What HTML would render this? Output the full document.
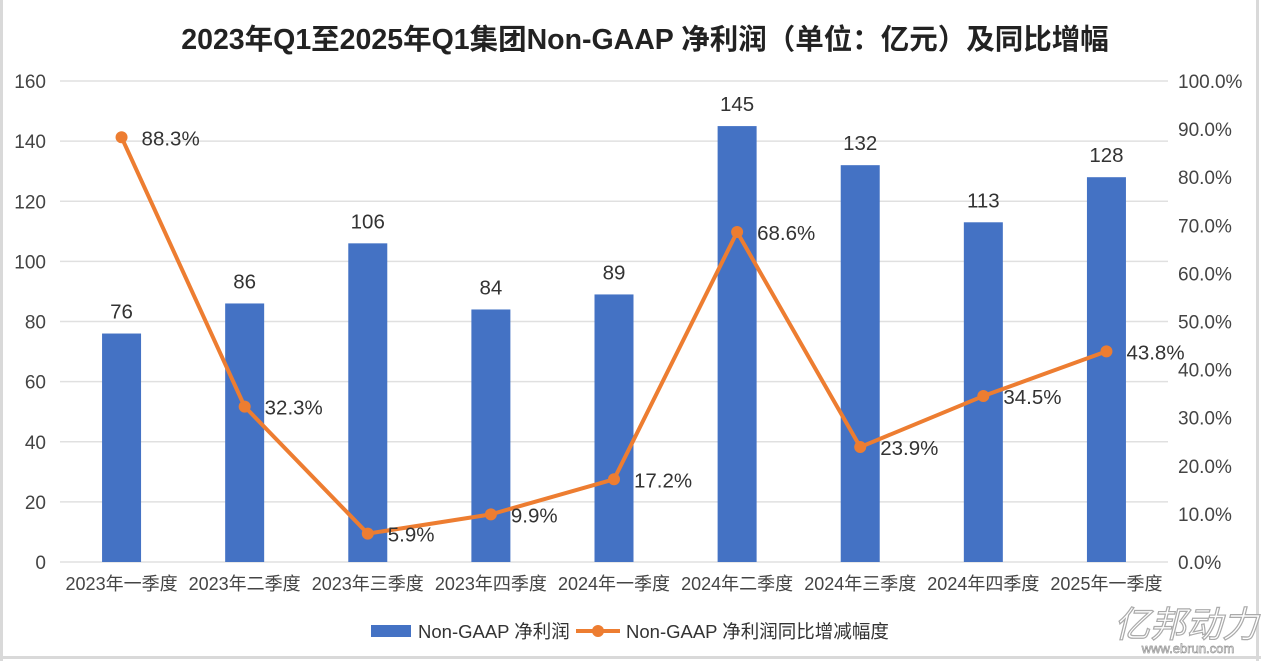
<!DOCTYPE html>
<html><head><meta charset="utf-8"><style>
html,body{margin:0;padding:0;background:#fff;}
svg{display:block;font-family:"Liberation Sans","Noto Sans CJK SC",sans-serif;}
</style></head><body>
<svg id="chart" width="1261" height="661" viewBox="0 0 1261 661">
<rect x="0" y="0" width="1261" height="661" fill="#fff"/>
<rect x="0" y="0" width="3" height="661" fill="#d9d9d9"/>
<rect x="1256" y="0" width="3" height="661" fill="#d9d9d9"/>
<rect x="0" y="656" width="1261" height="3" fill="#d9d9d9"/>
<text x="645" y="49" text-anchor="middle" font-size="28.5" font-weight="bold" fill="#222">2023年Q1至2025年Q1集团Non-GAAP 净利润（单位：亿元）及同比增幅</text>
<g id="grid"></g><g id="bars"></g><g id="line"></g><g id="labels"></g>
<g>
<rect x="371" y="625" width="40" height="12" fill="#4472c4"/>
<text x="418" y="638" font-size="18.5" fill="#333">Non-GAAP 净利润</text>
<line x1="576" y1="631" x2="620" y2="631" stroke="#ed7d31" stroke-width="4"/>
<circle cx="598" cy="631" r="6" fill="#ed7d31"/>
<text x="626" y="638" font-size="18.5" fill="#333">Non-GAAP 净利润同比增减幅度</text>
</g>
<g>
<text x="1186" y="637" font-size="36" font-style="italic" text-anchor="middle" fill="#fff" stroke="#aaa" stroke-width="1.2">亿邦动力</text>
<text x="1188" y="653" font-size="13" text-anchor="middle" fill="#fff" stroke="#999" stroke-width="0.7">www.ebrun.com</text>
</g>
</svg>
<script>
const categories=["2023年一季度","2023年二季度","2023年三季度","2023年四季度","2024年一季度","2024年二季度","2024年三季度","2024年四季度","2025年一季度"];
const profit=[76,86,106,84,89,145,132,113,128];
const growth=[88.3,32.3,5.9,9.9,17.2,68.6,23.9,34.5,43.8];
const leftTicks=[0,20,40,60,80,100,120,140,160];
const rightTicks=[0,10,20,30,40,50,60,70,80,90,100];
const NS="http://www.w3.org/2000/svg";
const x0=60,x1=1168,yB=562,yT=81;
const step=(x1-x0)/categories.length;
const xC=i=>x0+step*(i+0.5);
const yL=v=>yB-(v/160)*(yB-yT);
const yR=v=>yB-(v/100)*(yB-yT);
function mk(tag,attrs,parent,txt){const e=document.createElementNS(NS,tag);for(const k in attrs)e.setAttribute(k,attrs[k]);if(txt!==undefined)e.textContent=txt;document.getElementById(parent).appendChild(e);return e;}
leftTicks.forEach(t=>{
  const l=mk('line',{x1:x0,x2:x1,y1:yL(t),y2:yL(t),stroke:'#e0e0e0','stroke-width':1.5},'grid');
  
  
  const tx=mk('text',{x:46,y:yL(t)+7,'text-anchor':'end','font-size':19,fill:'#444'},'grid',t);
  
  
});
rightTicks.forEach(t=>{
  const tx=mk('text',{x:1178,y:yR(t)+7,'font-size':19,fill:'#444'},'grid',t.toFixed(1)+'%');
  
  
});
categories.forEach((c,i)=>{
  const tx=mk('text',{x:xC(i),y:590,'text-anchor':'middle','font-size':18,fill:'#444'},'grid',c);
  
  
  const b=mk('rect',{x:xC(i)-19.5,y:yL(profit[i]),width:39,height:yB-yL(profit[i]),fill:'#4472c4'},'bars');
  
  
  const bl=mk('text',{x:xC(i),y:yL(profit[i])-15,'text-anchor':'middle','font-size':20.5,fill:'#333'},'labels',profit[i]);
  
  
});
const pts=growth.map((g,i)=>xC(i)+','+yR(g)).join(' ');
const pl=mk('polyline',{points:pts,fill:'none',stroke:'#ed7d31','stroke-width':4,'stroke-linejoin':'round'},'line');


growth.forEach((g,i)=>{
  const c=mk('circle',{cx:xC(i),cy:yR(g),r:6,fill:'#ed7d31'},'line');
  
  
  const t=mk('text',{x:xC(i)+20,y:yR(g)+8,'font-size':20.5,fill:'#333'},'labels',g.toFixed(1)+'%');
  
  
});
</script>
</body></html>
